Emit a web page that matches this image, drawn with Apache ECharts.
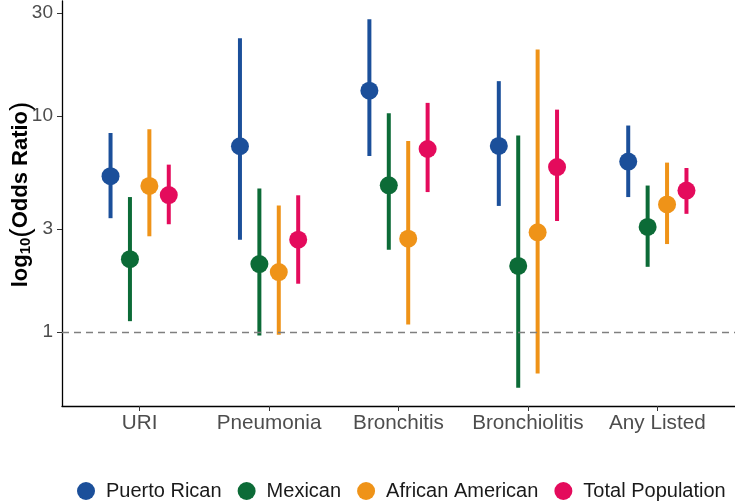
<!DOCTYPE html>
<html>
<head>
<meta charset="utf-8">
<script src="https://cdn.jsdelivr.net/npm/echarts@6/dist/echarts.min.js"></script>
<style>html,body{margin:0;padding:0;background:#fff}#c{width:735px;height:502px}</style>
</head>
<body>
<div id="c"></div>
<script>
// ---- data ----
var categories = ["URI", "Pneumonia", "Bronchitis", "Bronchiolitis", "Any Listed"];
var groups = ["Puerto Rican", "Mexican", "African American", "Total Population"];
var yTicks = [1, 3, 10, 30];

var puertoRicanOR  = [5.26, 7.24, 13.1, 7.26, 6.15];
var puertoRicanLo  = [3.36, 2.67, 6.53, 3.83, 4.21];
var puertoRicanHi  = [8.34, 22.9, 28.1, 14.5, 9.03];

var mexicanOR      = [2.17, 2.06, 4.77, 2.02, 3.06];
var mexicanLo      = [1.12, 0.96, 2.40, 0.55, 2.00];
var mexicanHi      = [4.21, 4.61, 10.3, 8.11, 4.76];

var africanAmOR    = [4.74, 1.89, 2.70, 2.89, 3.89];
var africanAmLo    = [2.77, 0.97, 1.08, 0.64, 2.55];
var africanAmHi    = [8.68, 3.85, 7.66, 20.3, 6.08];

var totalOR        = [4.30, 2.67, 7.03, 5.80, 4.51];
var totalLo        = [3.15, 1.67, 4.44, 3.26, 3.52];
var totalHi        = [5.95, 4.29, 11.5, 10.7, 5.74];

var refLine = 1;

// ---- build ----
var est = [puertoRicanOR, mexicanOR, africanAmOR, totalOR];
var lo = [puertoRicanLo, mexicanLo, africanAmLo, totalLo];
var hi = [puertoRicanHi, mexicanHi, africanAmHi, totalHi];
var colors = ["#1B4F9A", "#0C6B37", "#EF9318", "#E40B5C"];
var dodge = [-0.225, -0.075, 0.075, 0.225];
var FONT = "Liberation Sans, Arial, sans-serif";

var series = [];
groups.forEach(function (g, gi) {
  var ci = categories.map(function (c, i) { return [i + 1 + dodge[gi], lo[gi][i], hi[gi][i]]; });
  series.push({
    name: g + " CI",
    type: "custom",
    z: 2,
    silent: true,
    data: ci,
    encode: { x: 0, y: [1, 2] },
    renderItem: function (params, api) {
      var p1 = api.coord([api.value(0), api.value(1)]);
      var p2 = api.coord([api.value(0), api.value(2)]);
      return {
        type: "line",
        shape: { x1: p1[0], y1: p1[1], x2: p2[0], y2: p2[1] },
        style: { stroke: colors[gi], lineWidth: 4, lineCap: "butt" }
      };
    }
  });
});
groups.forEach(function (g, gi) {
  var s = {
    name: g,
    type: "scatter",
    z: 3,
    symbol: "circle",
    symbolSize: 18,
    itemStyle: { color: colors[gi], opacity: 1 },
    data: categories.map(function (c, i) { return [i + 1 + dodge[gi], est[gi][i]]; })
  };
  if (gi === 0) {
    s.markLine = {
      silent: true,
      symbol: "none",
      label: { show: false },
      lineStyle: { color: "#7F7F7F", type: [7, 5], width: 1.3 },
      data: [{ yAxis: refLine }]
    };
  }
  series.push(s);
});

var chart = echarts.init(document.getElementById("c"), null, { renderer: "canvas" });
chart.setOption({
  animation: false,
  backgroundColor: "#ffffff",
  color: colors,
  grid: { left: 62, right: 0, top: 1, bottom: 96, containLabel: false, outerBoundsMode: "none" },
  legend: {
    data: groups.map(function (g) { return { name: g, icon: "circle" }; }),
    left: 77,
    top: 481,
    width: 700,
    padding: 0,
    itemWidth: 18,
    itemHeight: 18,
    itemGap: 16,
    textStyle: { fontSize: 20, color: "#1a1a1a", fontFamily: FONT, padding: [0, 0, 0, 6] }
  },
  xAxis: {
    type: "value",
    min: 0.4,
    max: 5.6,
    splitLine: { show: false },
    axisLine: { show: true, onZero: false, lineStyle: { color: "#000", width: 1.3 } },
    axisTick: { show: true, customValues: [1, 2, 3, 4, 5], length: 5, lineStyle: { color: "#333", width: 1 } },
    axisLabel: {
      customValues: [1, 2, 3, 4, 5],
      margin: 7,
      fontSize: 20.7,
      color: "#4D4D4D",
      fontFamily: FONT,
      formatter: function (v) { return categories[Math.round(v) - 1] || ""; }
    }
  },
  yAxis: {
    type: "log",
    logBase: 10,
    min: 0.453,
    max: 34.1,
    splitLine: { show: false },
    axisLine: { show: true, onZero: false, lineStyle: { color: "#000", width: 1.3 } },
    axisTick: { show: true, customValues: yTicks, length: 5, lineStyle: { color: "#333", width: 1 } },
    axisLabel: {
      customValues: yTicks,
      margin: 9,
      fontSize: 19,
      color: "#4D4D4D",
      fontFamily: FONT,
      formatter: function (v) { return String(Math.round(v)); }
    },
    name: "{a|log}{s|10}{p|(}{a|Odds Ratio}{p|)}",
    nameLocation: "middle",
    nameRotate: 90,
    nameGap: 27,
    nameMoveOverlap: false,
    nameTextStyle: {
      padding: [0, 0, 0, 18],
      rich: {
        a: { fontSize: 22, fontWeight: "bold", color: "#000", fontFamily: FONT },
        s: { fontSize: 15, fontWeight: "bold", color: "#000", fontFamily: FONT, padding: [9, 0, 0, 0] },
        p: { fontSize: 28, fontWeight: "normal", color: "#000", fontFamily: FONT }
      }
    }
  },
  series: series
});
</script>
</body>
</html>
